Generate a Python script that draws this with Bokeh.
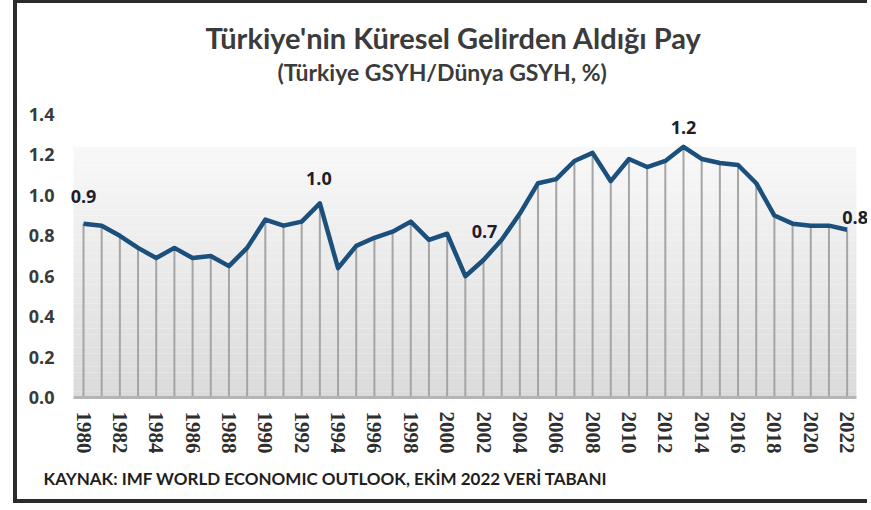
from bokeh.plotting import figure
from bokeh.models import Title, Label, FixedTicker, ColumnDataSource, CustomJSTickFormatter
from bokeh.core.properties import value
from bokeh.embed import file_html
from bokeh.resources import INLINE

# ---- data ----
years = list(range(1980, 2023))
share = [0.86, 0.85, 0.80, 0.74, 0.69, 0.74, 0.69, 0.70, 0.65, 0.74,
         0.88, 0.85, 0.87, 0.96, 0.64, 0.75, 0.79, 0.82, 0.87, 0.78,
         0.81, 0.60, 0.68, 0.78, 0.91, 1.06, 1.08, 1.17, 1.21, 1.07,
         1.18, 1.14, 1.17, 1.24, 1.18, 1.16, 1.15, 1.06, 0.90, 0.86,
         0.85, 0.85, 0.83]
label_years = [1980, 1993, 2002, 2013, 2022]
label_texts = ["0.9", "1.0", "0.7", "1.2", "0.8"]
y_ticks = [0.0, 0.2, 0.4, 0.6, 0.8, 1.0, 1.2, 1.4]
x_ticks = list(range(1980, 2023, 2))
title_text = "Türkiye'nin Küresel Gelirden Aldığı Pay"
subtitle_text = "(Türkiye GSYH/Dünya GSYH, %)"
source_text = "KAYNAK: IMF WORLD ECONOMIC OUTLOOK, EKİM 2022 VERİ TABANI"

# ---- styling ----
W, H = 854, 503                # + 13px margin + borders = 871 x 510
X0, X1 = 1979.01, 2023.34      # visible frame (extra room for end labels)
BX0, BX1 = 1979.45, 2022.51    # extent of shaded plot area / axis line
Y0, Y1 = 0.0, 1.949            # frame reaches the top so titles sit inside it
LINE_COLOR = "#1b4f7c"

p = figure(width=W, height=H, output_backend="svg", toolbar_location=None,
           x_range=(X0, X1), y_range=(Y0, Y1),
           min_border_left=48, min_border_right=0,
           min_border_top=0, min_border_bottom=109)
p.styles = {"margin-left": "13px",
            "border-left": "4px solid #2b2b2b",
            "border-top": "3px solid #2b2b2b",
            "border-bottom": "4px solid #2b2b2b"}
p.outline_line_color = None
p.xgrid.grid_line_color = None
p.ygrid.grid_line_color = None
p.background_fill_color = "white"
p.border_fill_color = "white"

# gradient background band (styling only)
n = 40
top_val = 1.24
for i in range(n):
    b = top_val * i / n
    t = top_val * (i + 1) / n
    frac = (i + 0.5) / n  # 0 bottom -> 1 top
    g = int(219 + (249 - 219) * frac)
    p.quad(left=BX0, right=BX1, bottom=b, top=t, fill_color=(g, g, g),
           line_color=None)

src = ColumnDataSource(dict(x=years, y=share, y0=[0] * len(years)))
p.segment(x0="x", y0="y0", x1="x", y1="y", source=src,
          line_color="#a5a5a5", line_width=2)
p.line("x", "y", source=src, line_color=LINE_COLOR, line_width=4.5,
       line_join="round")

lab_vals = [share[years.index(yv)] for yv in label_years]
x_offs = [0, -1, 1, 0, 8]
y_offs = [-27, -25, -29, -19, -12]
lsrc = ColumnDataSource(dict(x=label_years, y=lab_vals, t=label_texts,
                             xo=x_offs, yo=y_offs))
p.text("x", "y", text="t", source=lsrc, x_offset="xo", y_offset="yo",
       text_align="center", text_baseline="middle",
       text_font=value("Open Sans"), text_font_style="bold",
       text_font_size="18px", text_color="#1e1e2a")

# axes
p.yaxis.ticker = FixedTicker(ticks=y_ticks)
p.yaxis.formatter = CustomJSTickFormatter(code="return tick.toFixed(1);")
p.yaxis.axis_line_color = None
p.yaxis.major_tick_line_color = None
p.yaxis.minor_tick_line_color = None
p.yaxis.major_label_text_font = "Open Sans"
p.yaxis.major_label_text_font_style = "bold"
p.yaxis.major_label_text_font_size = "18px"
p.yaxis.major_label_text_color = "#3a3a3a"
p.yaxis.major_label_standoff = 5

p.xaxis.ticker = FixedTicker(ticks=x_ticks)
p.xaxis.bounds = (BX0, BX1)
p.xaxis.axis_line_color = "#b5b5b5"
p.xaxis.axis_line_width = 3
p.xaxis.major_tick_line_color = None
p.xaxis.minor_tick_line_color = None
p.xaxis.major_label_orientation = -1.5707963267948966
p.xaxis.major_label_text_font = "Liberation Serif"
p.xaxis.major_label_text_font_style = "bold"
p.xaxis.major_label_text_font_size = "21px"
p.xaxis.major_label_text_color = "#2e2e2e"
p.xaxis.major_label_standoff = 8

# titles (screen units relative to the plot frame) and source
p.add_layout(Label(x=140, y=360, x_units="screen", y_units="screen",
                   text=title_text, text_align="left", text_baseline="middle",
                   text_font="Lato", text_font_style="bold",
                   text_font_size="29px", text_color="#3b3b3b"))
p.add_layout(Label(x=212, y=326, x_units="screen", y_units="screen",
                   text=subtitle_text, text_align="left", text_baseline="middle",
                   text_font="Lato", text_font_style="bold",
                   text_font_size="23px", text_color="#3b3b3b"))
p.add_layout(Title(text=source_text, align="left", offset=-22, standoff=19,
                   text_font="Lato", text_font_style="bold",
                   text_font_size="17px", text_color="#1e1e1e"), "below")

open("out.html", "w").write(file_html(p, INLINE))
